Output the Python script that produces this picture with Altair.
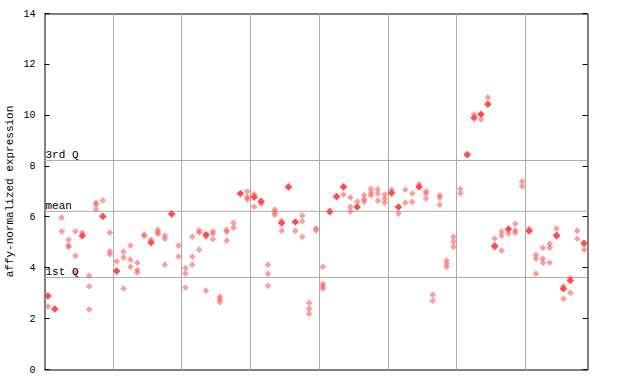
import altair as alt
import pandas as pd

# sample index (column), expression value, solid (overlapping) flag
cols = []
vals = []
solid = []

groups = [
    (0, [2.89, 2.48], [1, 0]),
    (1, [2.38], [1]),
    (2, [5.97, 5.43], [0, 0]),
    (3, [5.10, 4.88, 4.82], [0, 0, 0]),
    (4, [5.43, 4.47, 3.83], [0, 0, 0]),
    (5, [5.38, 5.26], [0, 1]),
    (6, [3.69, 3.27, 2.36], [0, 0, 0]),
    (7, [6.56, 6.48, 6.29], [0, 0, 0]),
    (8, [6.65, 6.02], [0, 1]),
    (9, [5.38, 4.65, 4.53], [0, 0, 0]),
    (10, [4.25, 3.87], [0, 1]),
    (11, [4.63, 4.40, 3.19], [0, 0, 0]),
    (12, [4.87, 4.32, 4.04], [0, 0, 0]),
    (13, [4.20, 3.92, 3.81], [0, 0, 0]),
    (14, [5.31, 5.25], [0, 0]),
    (15, [5.10, 4.99], [0, 1]),
    (16, [5.50, 5.41, 5.33], [0, 0, 0]),
    (17, [5.26, 5.14, 4.12], [0, 0, 0]),
    (18, [6.12], [1]),
    (19, [4.87, 4.44], [0, 0]),
    (20, [3.99, 3.78, 3.22], [0, 0, 0]),
    (21, [5.22, 4.44, 4.12], [0, 0, 0]),
    (22, [5.47, 5.38, 4.71], [0, 0, 0]),
    (23, [5.30, 5.22, 3.10], [1, 0, 0]),
    (24, [5.43, 5.35, 5.12], [0, 0, 0]),
    (25, [2.86, 2.76, 2.65], [0, 0, 0]),
    (26, [5.49, 5.41, 5.07], [0, 0, 0]),
    (27, [5.77, 5.58], [0, 0]),
    (28, [6.92], [1]),
    (29, [7.00, 6.78, 6.69], [0, 0, 0]),
    (30, [6.89, 6.78, 6.40], [0, 1, 0]),
    (31, [6.61, 6.52], [1, 0]),
    (32, [4.12, 3.77, 3.29], [0, 0, 0]),
    (33, [6.29, 6.18, 6.09], [0, 0, 0]),
    (34, [5.85, 5.76, 5.46], [0, 1, 0]),
    (35, [7.18], [1]),
    (36, [5.80, 5.46], [1, 0]),
    (37, [6.05, 5.83, 5.22], [0, 0, 0]),
    (38, [2.62, 2.39, 2.19], [0, 0, 0]),
    (39, [5.55, 5.47], [0, 0]),
    (40, [4.04, 3.37, 3.27, 3.18], [0, 0, 0, 0]),
    (41, [6.21], [1]),
    (42, [6.80], [1]),
    (43, [7.18, 6.88], [1, 0]),
    (44, [6.76, 6.40, 6.21], [0, 0, 0]),
    (45, [6.60, 6.39], [0, 1]),
    (46, [6.85, 6.69, 6.60], [0, 0, 0]),
    (47, [7.11, 6.96, 6.85], [0, 0, 0]),
    (48, [7.09, 6.92, 6.64], [0, 0, 0]),
    (49, [6.88, 6.72, 6.56], [0, 0, 0]),
    (50, [7.07, 6.94], [0, 1]),
    (51, [6.39, 6.13], [1, 0]),
    (52, [7.07, 6.56], [0, 0]),
    (53, [6.92, 6.60], [0, 0]),
    (54, [7.28, 7.18], [0, 1]),
    (55, [7.01, 6.92, 6.72], [0, 0, 0]),
    (56, [2.94, 2.70], [0, 0]),
    (57, [6.85, 6.76, 6.48], [0, 0, 0]),
    (58, [4.29, 4.16, 4.03], [0, 0, 0]),
    (59, [5.22, 5.03, 4.82], [0, 0, 0]),
    (60, [7.11, 6.92], [0, 0]),
    (61, [8.45], [1]),
    (62, [10.03, 9.90], [0, 1]),
    (63, [10.04, 9.83], [1, 0]),
    (64, [10.70, 10.43], [0, 1]),
    (65, [5.14, 4.86, 4.79], [0, 1, 0]),
    (66, [5.42, 5.26, 4.67], [0, 0, 0]),
    (67, [5.52, 5.34], [1, 0]),
    (68, [5.73, 5.47, 5.38], [0, 0, 0]),
    (69, [7.40, 7.20], [0, 0]),
    (70, [5.52, 5.45], [0, 1]),
    (71, [4.51, 4.36, 3.77], [0, 0, 0]),
    (72, [4.79, 4.36, 4.20], [0, 0, 0]),
    (73, [4.95, 4.79, 4.20], [0, 0, 0]),
    (74, [5.54, 5.28, 5.22], [0, 1, 0]),
    (75, [3.27, 3.18, 2.78], [0, 1, 0]),
    (76, [3.60, 3.50, 3.02], [0, 1, 0]),
    (77, [5.45, 5.14], [0, 0]),
    (78, [4.96, 4.71], [1, 0]),
]
for c, vs, ss in groups:
    for v, s in zip(vs, ss):
        cols.append(c + 0.5)
        vals.append(v)
        solid.append(s)

group_bounds = [10, 20, 30, 40, 50, 60, 70]
quant_values = [8.22, 6.22, 3.62]
quant_labels = ["3rd Q", "mean", "1st Q"]
y_ticks = [0, 2, 4, 6, 8, 10, 12, 14]

pts = pd.DataFrame({"x": cols, "y": vals, "solid": solid})
qdf = pd.DataFrame({"y": quant_values, "label": quant_labels})
tick_df = pd.DataFrame({"y": y_ticks})

FONT = "Liberation Mono"
xscale = alt.Scale(domain=[0, 79], nice=False, zero=False)
yscale = alt.Scale(domain=[0, 14], nice=False, zero=False)

xaxis = alt.Axis(values=group_bounds, labels=False, ticks=False, title=None,
                 grid=True, gridColor="#aaaaaa", gridWidth=1, domain=False)

rules = alt.Chart(qdf).mark_rule(color="#aaaaaa", strokeWidth=1).encode(
    y=alt.Y("y:Q", scale=yscale, axis=None))

base_points = alt.Chart(pts).encode(
    x=alt.X("x:Q", scale=xscale, axis=xaxis),
    y=alt.Y("y:Q", scale=yscale,
            axis=alt.Axis(values=y_ticks, orient="left", offset=-5, tickSize=5,
                          ticks=True, tickColor="black", tickWidth=1,
                          domain=False, grid=False, labelFont=FONT,
                          labelFontSize=10, labelColor="black", labelPadding=9,
                          title="affy-normalized expression", titleFont=FONT,
                          titleFontSize=11, titleFontWeight="normal",
                          titleColor="black", titlePadding=8)),
)

light = base_points.transform_filter("datum.solid == 0").mark_point(
    shape="diamond", filled=True, size=44, color="#ff5a5a", opacity=0.6)
dark = base_points.transform_filter("datum.solid == 1").mark_point(
    shape="diamond", filled=True, size=58, color="#ff4d4d", opacity=1).encode(
    y=alt.Y("y:Q", scale=yscale, axis=None))

labels = alt.Chart(qdf).mark_text(
    align="left", baseline="bottom", font=FONT, fontSize=11, color="black", dx=1
).encode(
    x=alt.datum(0, scale=xscale),
    y=alt.Y("y:Q", scale=yscale, axis=None),
    text="label:N",
)

right_ticks = alt.Chart(tick_df).mark_point(opacity=0).encode(
    y=alt.Y("y:Q", scale=yscale,
            axis=alt.Axis(values=y_ticks, orient="right", offset=-5, tickSize=5,
                          tickColor="black", tickWidth=1, labels=False,
                          domain=False, grid=False, title=None)))

chart = alt.layer(rules, light, dark, labels, right_ticks).resolve_scale(
    y="independent"
).resolve_axis(y="independent").properties(
    width=543, height=356,
    background="white",
    autosize=alt.AutoSizeParams(type="none"),
    padding={"left": 44.5, "top": 13.5, "right": 52.5, "bottom": 14.5},
).configure_view(stroke="black", strokeWidth=1).configure_axis(translate=0)

chart.save("out.html", embed_options={"renderer": "svg", "actions": False})
